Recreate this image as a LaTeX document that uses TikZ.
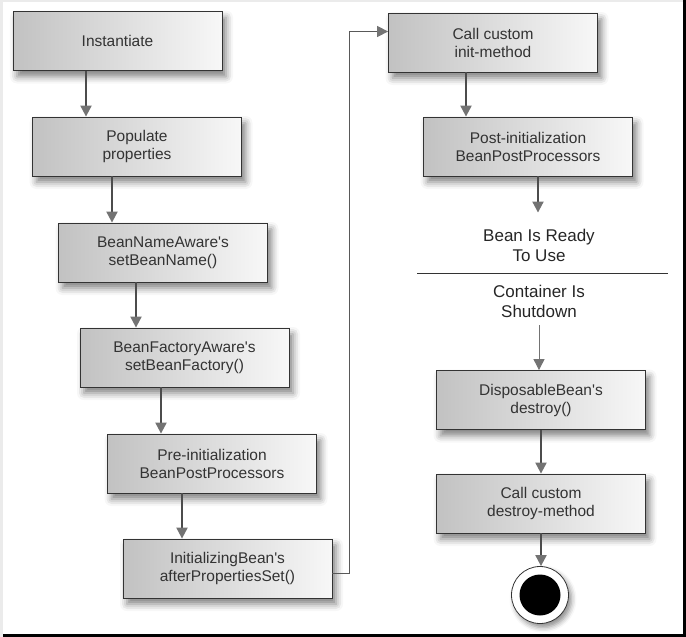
\documentclass[tikz,border=0pt]{standalone}
\usepackage{fontspec}
\setmainfont{Liberation Sans}
\usetikzlibrary{arrows.meta,shadows.blur}

\begin{document}
\begin{tikzpicture}[x=1pt, y=-1pt,
  stepbox/.style={draw=black!80, line width=0.8pt, left color=black!24, right color=black!3,
    minimum width=209pt, minimum height=59pt, align=center, text=black!80,
    font=\fontsize{15.5}{18}\selectfont,
    blur shadow={shadow xshift=4pt, shadow yshift=-6pt, shadow blur radius=7pt, shadow opacity=50}},
  statetext/.style={align=center, text=black!85, font=\fontsize{17}{20}\selectfont, inner xsep=2pt},
  flow/.style={draw=black!70, line width=2pt, -{Triangle[width=11pt,length=11pt,color=black!55]}},
  loopflow/.style={draw=black!65, line width=1.4pt, -{Triangle[width=11pt,length=11pt,color=black!55]}},
  thinflow/.style={draw=black!55, line width=0.9pt, -{Triangle[width=11pt,length=11pt,color=black!55]}}]

  % Frame
  \useasboundingbox (0,0) rectangle (686,637);
  \fill[black!8] (0,0) rectangle (3,637);
  \fill[black!8] (0,0) rectangle (686,2);
  \fill[black] (683,0) rectangle (686,637);
  \fill[black] (3,634) rectangle (686,637);

  % Creation steps (left column)
  \node (inst)     [stepbox] at (117.5,41)  {Instantiate};
  \node (pop)      [stepbox] at (137,146.5) {Populate\\properties};
  \node (bname)    [stepbox] at (163,252.5) {BeanNameAware\textquotesingle s\\setBeanName()};
  \node (bfact)    [stepbox] at (184.5,357.5) {BeanFactoryAware\textquotesingle s\\setBeanFactory()};
  \node (preinit)  [stepbox] at (212,463.5) {Pre-initialization\\BeanPostProcessors};
  \node (initbean) [stepbox] at (227.5,568.5) {InitializingBean\textquotesingle s\\afterPropertiesSet()};

  % Init and destroy steps (right column)
  \node (initm)    [stepbox] at (493,42.5)  {Call custom\\init-method};
  \node (postinit) [stepbox] at (528,146.5) {Post-initialization\\BeanPostProcessors};
  \node (ready)    [statetext, inner ysep=16pt] at (539,245) {Bean Is Ready\\To Use};
  \node (shutdown) [statetext, inner ysep=8pt] at (539,301) {Container Is\\Shutdown};
  \node (disp)     [stepbox] at (541,400)   {DisposableBean\textquotesingle s\\destroy()};
  \node (destroy)  [stepbox] at (541,503.5) {Call custom\\destroy-method};

  % End state
  \node (stop) [circle, draw=black!80, line width=0.8pt, fill=white, minimum size=57pt,
    blur shadow={shadow xshift=3pt, shadow yshift=-4pt, shadow blur radius=5pt, shadow opacity=45}] at (540,595) {};
  \node (stopdot) [circle, fill=black, minimum size=41pt] at (stop) {};

  % Separator between ready and shutdown
  \draw[black!80, line width=0.8pt] (417,273) -- (668,273);

  % Arrows
  \draw[flow] ([xshift=-31.5pt]inst.south) -- ([xshift=-31.5pt]inst.south |- pop.north);
  \draw[flow] ([xshift=-25pt]pop.south) -- ([xshift=-25pt]pop.south |- bname.north);
  \draw[flow] ([xshift=-27pt]bname.south) -- ([xshift=-27pt]bname.south |- bfact.north);
  \draw[flow] ([xshift=-23.5pt]bfact.south) -- ([xshift=-23.5pt]bfact.south |- preinit.north);
  \draw[flow] ([xshift=-30pt]preinit.south) -- ([xshift=-30pt]preinit.south |- initbean.north);
  \draw[loopflow] ([yshift=-5pt]initbean.east) -- ++(17,0) |- ([yshift=11pt]initm.west);
  \draw[flow] ([xshift=-27pt]initm.south) -- ([xshift=-27pt]initm.south |- postinit.north);
  \draw[flow] ([xshift=10pt]postinit.south) -- ([xshift=10pt]postinit.south |- ready.north);
  \draw[thinflow] (shutdown.south) -- (shutdown.south |- disp.north);
  \draw[flow] (disp.south) -- (disp.south |- destroy.north);
  \draw[flow] (destroy.south) -- (destroy.south |- stop.north);
\end{tikzpicture}
\end{document}
